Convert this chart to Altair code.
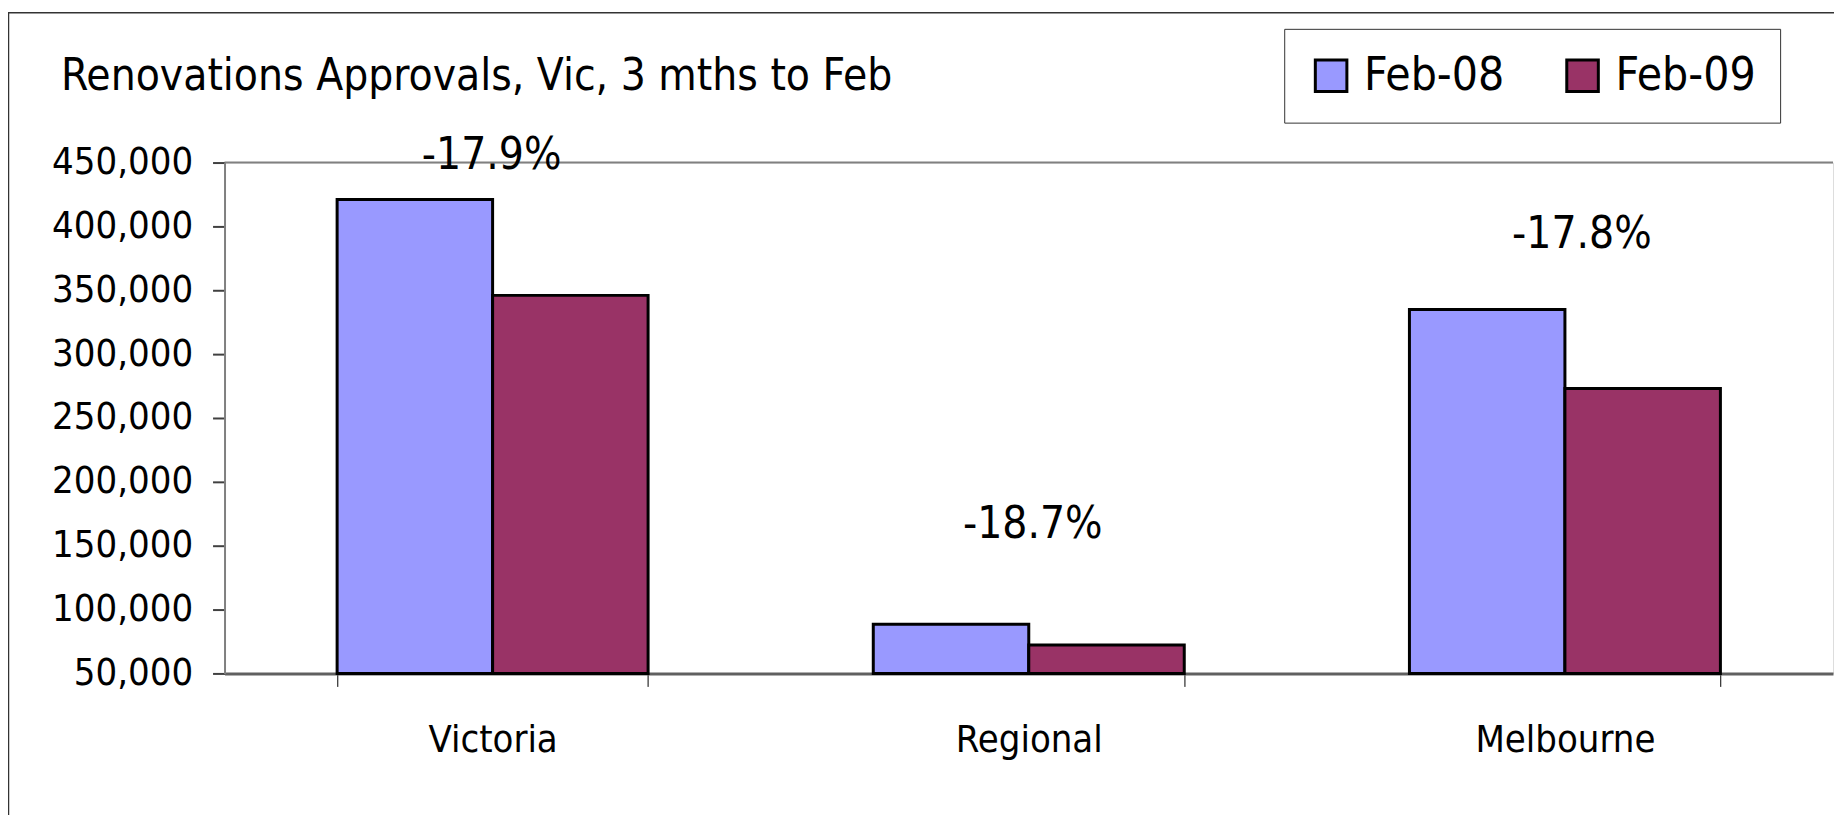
import altair as alt
import pandas as pd

# ---- data ----
regions = ["Victoria", "Regional", "Melbourne"]
series = ["Feb-08", "Feb-09"]
feb08 = [421000, 88500, 335000]
feb09 = [346000, 72300, 273000]
changes = ["-17.9%", "-18.7%", "-17.8%"]
y_ticks = [50000, 100000, 150000, 200000, 250000, 300000, 350000, 400000, 450000]
colors = ["#9999FF", "#993366"]

# ---- styles ----
FONT = "'Liberation Sans Narrow', 'Arial Narrow', 'DejaVu Sans Condensed', sans-serif"
ann_dx = [-1, 4, 17]
ann_dy = [-31, -86, -62]

rows = []
for r, a, b in zip(regions, feb08, feb09):
    rows.append({"region": r, "series": series[0], "value": a})
    rows.append({"region": r, "series": series[1], "value": b})
bars_df = pd.DataFrame(rows)
ann_df = pd.DataFrame({
    "region": regions,
    "change": changes,
    "top": [max(a, b) for a, b in zip(feb08, feb09)],
})

x_enc = alt.X(
    "region:N", sort=regions,
    scale=alt.Scale(paddingInner=0.42, paddingOuter=0.21),
    axis=alt.Axis(
        title=None, tickBand="extent", labelAngle=0,
        labelFont=FONT, labelFontSize=38, labelColor="black", labelPadding=35,
        labelLimit=400,
        tickSize=13, tickColor="black", tickWidth=1,
        domainColor="#606060", domainWidth=3, grid=False,
    ),
)
y_scale = alt.Scale(domain=[50000, 450000], zero=False, nice=False)
y_enc = alt.Y(
    "value:Q", scale=y_scale,
    axis=alt.Axis(
        title=None, values=y_ticks, format=",d",
        labelFont=FONT, labelFontSize=38, labelColor="black", labelPadding=20,
        tickSize=12, tickColor="#404040", tickWidth=2,
        domainColor="#808080", domainWidth=2,
        gridColor="#d0d0d0", gridWidth=1,
    ),
)

frame = alt.Chart(alt.Data(values=[{}])).mark_rect(
    fill="transparent", stroke="#333333", strokeWidth=1.5
).encode(
    x=alt.value(-216.5), x2=alt.value(3000), y=alt.value(-150), y2=alt.value(3000)
)

top_rule = alt.Chart(alt.Data(values=[{}])).mark_rule(
    color="#808080", strokeWidth=2
).encode(y=alt.datum(450000, scale=y_scale))

bars = alt.Chart(bars_df).mark_bar(stroke="black", strokeWidth=3).encode(
    x=x_enc,
    xOffset=alt.XOffset("series:N", sort=series),
    y=y_enc,
    y2=alt.datum(50000),
    color=alt.Color(
        "series:N", sort=series,
        scale=alt.Scale(domain=series, range=colors),
        legend=alt.Legend(
            orient="none", legendX=1062, legendY=-134, direction="horizontal",
            title=None, symbolType="square", symbolSize=1000,
            symbolStrokeColor="black", symbolStrokeWidth=3, symbolOpacity=1,
            labelFont=FONT, labelFontSize=46, labelColor="black", labelOffset=10,
            labelLimit=400, columnPadding=55, padding=24,
            strokeColor="#333333", fillColor="white",
        ),
    ),
)

anns = []
for r, dx, dy in zip(regions, ann_dx, ann_dy):
    anns.append(
        alt.Chart(ann_df).transform_filter(alt.datum.region == r).mark_text(
            font=FONT, fontSize=44, baseline="alphabetic", align="center",
            dx=dx, dy=dy, color="black"
        ).encode(
            x=alt.X("region:N", sort=regions),
            y=alt.Y("top:Q", scale=y_scale),
            text="change:N",
        )
    )

chart = alt.layer(frame, top_rule, bars, *anns).properties(
    width=1612, height=512,
    padding={"left": 217, "top": 154, "right": 1, "bottom": 141},
    autosize=alt.AutoSizeParams(type="none"),
    title=alt.Title(
        "Renovations Approvals, Vic, 3 mths to Feb",
        anchor="start", frame="group", font=FONT, fontSize=44,
        fontWeight="normal", color="black", baseline="alphabetic",
        offset=0, dx=-164, dy=122,
    ),
).configure_view(stroke="transparent").configure(background="white")

chart.save("out.html", embed_options={"renderer": "svg", "actions": False})
